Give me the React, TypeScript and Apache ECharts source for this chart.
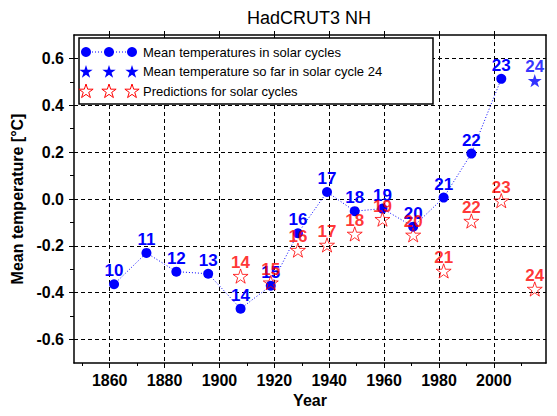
import React, { useEffect, useRef } from "react";
import * as echarts from "echarts";

// ---- data ----
const cycles = [10, 11, 12, 13, 14, 15, 16, 17, 18, 19, 20, 21, 22, 23];
const cycleYears = [1861.6, 1873.4, 1884.3, 1895.9, 1907.7, 1918.7, 1928.6, 1939.2, 1949.3, 1959.4, 1970.6, 1981.7, 1991.8, 2002.7];
const meanTemps = [-0.364, -0.23, -0.31, -0.319, -0.468, -0.37, -0.146, 0.03, -0.052, -0.041, -0.118, 0.006, 0.194, 0.513];

const soFarCycle = [24];
const soFarYear = [2014.9];
const soFarTemp = [0.505];

const predCycles = [14, 15, 16, 17, 18, 19, 20, 21, 22, 23, 24];
const predYears = [1907.7, 1918.7, 1928.6, 1939.2, 1949.3, 1959.4, 1970.6, 1981.7, 1991.8, 2002.7, 2014.9];
const predTemps = [-0.329, -0.357, -0.218, -0.196, -0.149, -0.086, -0.153, -0.307, -0.094, -0.007, -0.384];

const xMajor = [1860, 1880, 1900, 1920, 1940, 1960, 1980, 2000];
const xMinor = [1850, 1870, 1890, 1910, 1930, 1950, 1970, 1990, 2010];
const yMajor = [-0.6, -0.4, -0.2, 0, 0.2, 0.4, 0.6];
const yMinor = [-0.5, -0.3, -0.1, 0.1, 0.3, 0.5];

const legendLabels = [
  "Mean temperatures in solar cycles",
  "Mean temperature so far in solar cycle 24",
  "Predictions for solar cycles",
];

const FONT = "'Liberation Sans', Arial, Helvetica, sans-serif";
const BLUE = "#0000ff";
const RED = "#ff0000";

function starPoints(cx: number, cy: number, r: number): number[][] {
  const pts: number[][] = [];
  for (let i = 0; i < 10; i++) {
    const rr = i % 2 === 0 ? r : r * 0.382;
    const a = -Math.PI / 2 + (i * Math.PI) / 5;
    pts.push([cx + rr * Math.cos(a), cy + rr * Math.sin(a)]);
  }
  return pts;
}

function starPath(): string {
  const pts = starPoints(0, 0, 10);
  return "path://M" + pts.map((p) => p[0].toFixed(3) + "," + p[1].toFixed(3)).join("L") + "Z";
}

export default function App() {
  const ref = useRef<HTMLDivElement>(null);
  useEffect(() => {
    document.body.style.margin = "0";
    if (!ref.current) return;
    const chart = echarts.init(ref.current, null, { renderer: "svg" });
    const STAR = starPath();

    const legendGraphics: any[] = [
      {
        type: "rect",
        shape: { x: 79, y: 38, width: 354, height: 66 },
        style: { fill: "#fff", stroke: "#000", lineWidth: 1.5 },
        z: 100,
      },
      {
        type: "line",
        shape: { x1: 86, y1: 52, x2: 132, y2: 52 },
        style: { stroke: BLUE, lineWidth: 1, lineDash: [1, 2] },
        z: 101,
      },
    ];
    [86, 109, 132].forEach((x) => {
      legendGraphics.push({
        type: "circle",
        shape: { cx: x, cy: 52, r: 5 },
        style: { fill: BLUE },
        z: 102,
      });
      legendGraphics.push({
        type: "polygon",
        shape: { points: starPoints(x, 72, 7) },
        style: { fill: BLUE },
        z: 102,
      });
      legendGraphics.push({
        type: "polygon",
        shape: { points: starPoints(x, 91.5, 7.5) },
        style: { fill: "#fff", stroke: RED, lineWidth: 1 },
        z: 102,
      });
    });
    legendLabels.forEach((t, i) => {
      legendGraphics.push({
        type: "text",
        x: 143,
        y: [52, 71.5, 91][i],
        style: {
          text: t,
          fill: "#000",
          font: "13px " + FONT,
          verticalAlign: "middle",
          align: "left",
        },
        z: 103,
      });
    });

    const gridLine = { show: true, lineStyle: { color: "#000", type: [4, 3], width: 1 } };
    const frameLine = { show: true, onZero: false, lineStyle: { color: "#000", width: 1.5 } };
    const tickFont = { fontSize: 16, fontWeight: "bold", color: "#000", fontFamily: FONT };
    const nameFont = { fontSize: 16, fontWeight: "bold", color: "#000", fontFamily: FONT };

    chart.setOption({
      animation: false,
      backgroundColor: "#fff",
      textStyle: { fontFamily: FONT },
      title: {
        text: "HadCRUT3 NH",
        left: 304,
        top: 4,
        textAlign: "center",
        textStyle: { fontSize: 18, fontWeight: "normal", color: "#000", fontFamily: FONT },
      },
      grid: { left: 74, right: 11, top: 35, bottom: 53, containLabel: false },
      xAxis: [
        {
          type: "value",
          position: "bottom",
          min: 1847,
          max: 2019,
          name: "Year",
          nameLocation: "middle",
          nameGap: 27,
          nameTextStyle: nameFont,
          axisLine: frameLine,
          axisTick: { show: true, customValues: xMajor, length: 5, lineStyle: { color: "#000" } },
          axisLabel: { show: true, customValues: xMajor, margin: 9, ...tickFont, formatter: (v: number) => String(v) },
          splitLine: { ...gridLine, customValues: xMajor },
        },
        {
          type: "value",
          position: "bottom",
          min: 1847,
          max: 2019,
          axisLine: { show: false, onZero: false },
          axisTick: { show: true, customValues: xMinor, length: 3, lineStyle: { color: "#000" } },
          axisLabel: { show: false },
          splitLine: { show: false },
        },
        {
          type: "value",
          position: "top",
          min: 1847,
          max: 2019,
          axisLine: frameLine,
          axisTick: { show: true, customValues: xMajor, length: 4, lineStyle: { color: "#000" } },
          axisLabel: { show: false },
          splitLine: { show: false },
        },
      ],
      yAxis: [
        {
          type: "value",
          position: "left",
          min: -0.7,
          max: 0.7,
          name: "Mean temperature [°C]",
          nameLocation: "middle",
          nameGap: 48,
          nameTextStyle: nameFont,
          axisLine: frameLine,
          axisTick: { show: true, customValues: yMajor, length: 5, lineStyle: { color: "#000" } },
          axisLabel: {
            show: true,
            customValues: yMajor,
            margin: 10,
            ...tickFont,
            formatter: (v: number) => v.toFixed(1),
          },
          splitLine: { ...gridLine, customValues: yMajor },
        },
        {
          type: "value",
          position: "left",
          min: -0.7,
          max: 0.7,
          axisLine: { show: false, onZero: false },
          axisTick: { show: true, customValues: yMinor, length: 4, lineStyle: { color: "#000" } },
          axisLabel: { show: false },
          splitLine: { show: false },
        },
        {
          type: "value",
          position: "right",
          min: -0.7,
          max: 0.7,
          axisLine: frameLine,
          axisTick: { show: false },
          axisLabel: { show: false },
          splitLine: { show: false },
        },
      ],
      graphic: legendGraphics,
      series: [
        {
          name: legendLabels[0],
          type: "line",
          xAxisIndex: 0,
          yAxisIndex: 0,
          data: cycleYears.map((x, i) => [x, meanTemps[i], cycles[i]]),
          symbol: "circle",
          symbolSize: 10,
          itemStyle: { color: BLUE },
          lineStyle: { color: BLUE, width: 1, type: [1, 2] },
          label: {
            show: true,
            position: "top",
            distance: 0,
            color: BLUE,
            fontSize: 17,
            fontWeight: "bold",
            fontFamily: FONT,
            formatter: (p: any) => String(p.value[2]),
          },
          z: 3,
        },
        {
          name: legendLabels[1],
          type: "scatter",
          xAxisIndex: 0,
          yAxisIndex: 0,
          data: soFarYear.map((x, i) => [x, soFarTemp[i], soFarCycle[i]]),
          symbol: STAR,
          symbolKeepAspect: true,
          symbolSize: 14,
          itemStyle: { color: BLUE },
          label: {
            show: true,
            position: "top",
            distance: -1,
            color: BLUE,
            fontSize: 17,
            fontWeight: "bold",
            fontFamily: FONT,
            formatter: (p: any) => String(p.value[2]),
          },
          z: 4,
        },
        {
          name: legendLabels[2],
          type: "scatter",
          xAxisIndex: 0,
          yAxisIndex: 0,
          data: predYears.map((x, i) => [x, predTemps[i], predCycles[i]]),
          symbol: STAR,
          symbolKeepAspect: true,
          symbolSize: 15,
          itemStyle: { color: "rgba(0,0,0,0)", borderColor: RED, borderWidth: 1 },
          label: {
            show: true,
            position: "top",
            distance: -3,
            color: RED,
            fontSize: 17,
            fontWeight: "bold",
            fontFamily: FONT,
            formatter: (p: any) => String(p.value[2]),
          },
          z: 5,
        },
      ],
    });
    return () => chart.dispose();
  }, []);
  return <div ref={ref} style={{ width: 557, height: 416 }} />;
}
